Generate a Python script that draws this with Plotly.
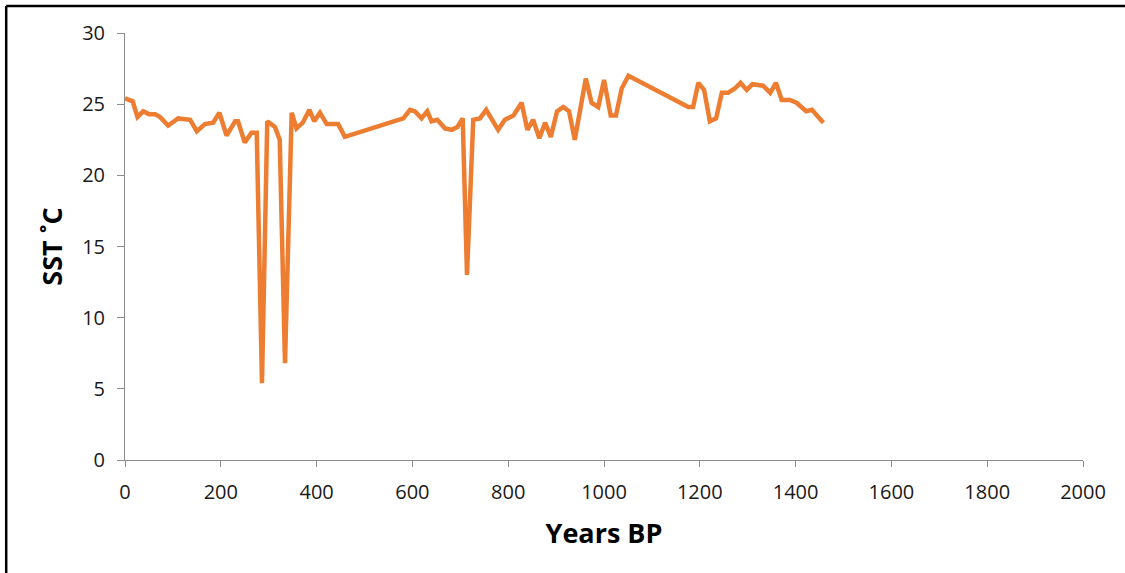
import plotly.graph_objects as go

years_bp = [0, 16, 26, 38, 50, 63, 73, 90, 111, 136, 150, 167, 184, 197, 212, 230, 236, 250, 264, 275,
            286, 297, 313, 323, 334, 348, 358, 371, 385, 395, 407, 421, 445, 459,
            581, 595, 605, 619, 631, 640, 652, 668, 682, 694, 705, 714, 727, 741, 754, 779, 793, 811,
            828, 840, 852, 865, 877, 889, 902, 915, 927, 939, 962, 974, 988, 1000, 1014, 1025, 1037,
            1051, 1176, 1186, 1197, 1209, 1221, 1234, 1246, 1259, 1273, 1285, 1298, 1310, 1332, 1347,
            1359, 1371, 1388, 1402, 1422, 1434, 1458]
sst_c = [25.4, 25.2, 24.1, 24.5, 24.3, 24.3, 24.1, 23.5, 24.0, 23.9, 23.1, 23.6, 23.7, 24.4, 22.8, 23.8, 23.8, 22.3, 23.0, 23.0,
         5.4, 23.8, 23.4, 22.5, 6.8, 24.4, 23.3, 23.7, 24.6, 23.8, 24.4, 23.6, 23.6, 22.7,
         24.0, 24.6, 24.5, 24.0, 24.5, 23.8, 23.9, 23.3, 23.2, 23.4, 24.0, 13.0, 23.9, 24.0, 24.6, 23.2, 23.9, 24.2,
         25.1, 23.2, 23.9, 22.6, 23.7, 22.7, 24.5, 24.8, 24.5, 22.5, 26.8, 25.1, 24.8, 26.7, 24.2, 24.2, 26.1,
         27.0, 24.8, 24.8, 26.5, 26.0, 23.8, 24.0, 25.8, 25.8, 26.1, 26.5, 26.0, 26.4, 26.3, 25.8,
         26.5, 25.3, 25.3, 25.1, 24.5, 24.6, 23.7]

x_ticks = [0, 200, 400, 600, 800, 1000, 1200, 1400, 1600, 1800, 2000]
y_ticks = [0, 5, 10, 15, 20, 25, 30]

fig = go.Figure()
fig.add_trace(go.Scatter(x=years_bp, y=sst_c, mode="lines",
                         line=dict(color="#ED7D31", width=4.5), showlegend=False))

font_family = "Open Sans"
fig.update_layout(
    width=1125, height=573,
    margin=dict(l=125, r=42, t=33, b=113),
    paper_bgcolor="white", plot_bgcolor="white",
    font=dict(family=font_family, color="#1a1a1a", size=20),
)
fig.update_xaxes(
    range=[0, 2000], tickvals=x_ticks, ticks="outside", ticklen=6, tickcolor="#8c8c8c",
    showline=True, linecolor="#8c8c8c", linewidth=1, showgrid=False, zeroline=False,
    tickfont=dict(size=20), ticklabelstandoff=8,
    title=dict(text="<b>Years BP</b>", font=dict(size=27, color="black"), standoff=20),
)
fig.update_yaxes(
    range=[0, 30], tickvals=y_ticks, ticks="outside", ticklen=7, tickcolor="#8c8c8c",
    showline=True, linecolor="#8c8c8c", linewidth=1, showgrid=False, zeroline=False,
    tickfont=dict(size=20), ticklabelstandoff=8,
    title=dict(text="<b>SST ˚C</b>", font=dict(size=27, color="black"), standoff=11),
)
# outer frame (top and left edges)
fig.add_shape(type="line", xref="paper", yref="paper", x0=-0.124, x1=1.06, y0=1.063, y1=1.063,
              line=dict(color="black", width=2.5))
fig.add_shape(type="line", xref="paper", yref="paper", x0=-0.124, x1=-0.124, y0=1.063, y1=-0.3,
              line=dict(color="black", width=2.5))

fig.write_html("out.html", config={"displayModeBar": False},
               post_script="document.body.style.margin='0';")
